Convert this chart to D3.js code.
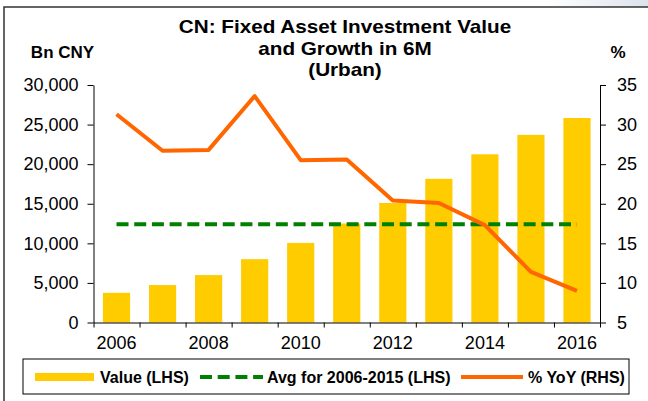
<!DOCTYPE html>
<html>
<head>
<meta charset="utf-8">
<script src="https://cdn.jsdelivr.net/npm/d3@7"></script>
<style>
  body { margin: 0; background: #fff; }
  svg { display: block; font-family: 'Liberation Sans', Arial, sans-serif; }
</style>
</head>
<body>
<svg id="chart" width="648" height="401"></svg>
<script>
const years = [2006, 2007, 2008, 2009, 2010, 2011, 2012, 2013, 2014, 2015, 2016]
const values = [3750, 4730, 5990, 8000, 10050, 12500, 15100, 18150, 21250, 23700, 25830] // Bn CNY
const yoy = [31.3, 26.7, 26.8, 33.6, 25.5, 25.6, 20.4, 20.1, 17.3, 11.4, 9.0] // %
const avgValue = 12400
const leftTicks = [0, 5000, 10000, 15000, 20000, 25000, 30000]
const rightTicks = [5, 10, 15, 20, 25, 30, 35]
const yearLabels = [2006, 2008, 2010, 2012, 2014, 2016]
const titleLines = ['CN: Fixed Asset Investment Value', 'and Growth in 6M', '(Urban)']
const legendLabels = ['Value (LHS)', 'Avg for 2006-2015 (LHS)', '% YoY (RHS)']

const BAR = '#FFCC00'
const AVG = '#008000'
const LINE = '#FF6600'

const plot = { left: 93.5, right: 600, top: 85, bottom: 322.5 }
const svg = d3.select('#chart')

// light smear at top right of the original screenshot
const grad = svg.append('defs').append('linearGradient').attr('id', 'smear')
grad.append('stop').attr('offset', '0%').attr('stop-color', '#fff')
grad.append('stop').attr('offset', '100%').attr('stop-color', '#dde3ec')
svg.append('rect').attr('x', 545).attr('y', 0).attr('width', 103).attr('height', 7).attr('fill', 'url(#smear)')

// chart frame (left + top edges are visible)
svg.append('path')
  .attr('d', 'M4,401 V7 H648')
  .attr('fill', 'none')
  .attr('stroke', '#333')
  .attr('stroke-width', 1.5)

const x = d3.scaleBand()
  .domain(years)
  .range([plot.left, plot.right])
  .paddingInner(0.41)
  .paddingOuter(0.205)
const xIdx = d3.scaleLinear().domain([0, years.length]).range([plot.left, plot.right])
const yL = d3.scaleLinear().domain([0, 30000]).range([plot.bottom, plot.top])
const yR = d3.scaleLinear().domain([5, 35]).range([plot.bottom, plot.top])
const cx = (d) => x(d) + x.bandwidth() / 2

/**
 * Appends a text, optionally stretched horizontally like the pasted original.
 */
function label (g, str, px, py, opts) {
  const sx = opts.sx || 1
  return g.append('text')
    .attr('transform', 'translate(' + px + ',' + py + ') scale(' + sx + ',1)')
    .attr('text-anchor', opts.anchor || 'start')
    .attr('font-size', opts.size)
    .attr('font-weight', opts.weight || 'normal')
    .attr('fill', '#000')
    .text(str)
}

// title
const titleBase = [33, 54.5, 76]
titleLines.forEach((t, i) => label(svg, t, 345, titleBase[i], { size: 18, weight: 'bold', anchor: 'middle', sx: 1.15 }))
label(svg, 'Bn CNY', 62.5, 58, { size: 17, weight: 'bold', anchor: 'middle' })
label(svg, '%', 618, 58, { size: 17, weight: 'bold', anchor: 'middle' })

// bars
svg.append('g')
  .selectAll('rect')
  .data(years)
  .join('rect')
  .attr('x', (d) => x(d))
  .attr('y', (d, i) => yL(values[i]))
  .attr('width', x.bandwidth())
  .attr('height', (d, i) => yL(0) - yL(values[i]))
  .attr('fill', BAR)

// average line
svg.append('path')
  .datum(years)
  .attr('d', d3.line().x(cx).y(() => yL(avgValue)))
  .attr('fill', 'none')
  .attr('stroke', AVG)
  .attr('stroke-width', 4)
  .attr('stroke-dasharray', '12,5.7')

// yoy line
svg.append('path')
  .datum(years)
  .attr('d', d3.line().x(cx).y((d, i) => yR(yoy[i])))
  .attr('fill', 'none')
  .attr('stroke', LINE)
  .attr('stroke-width', 4)
  .attr('stroke-linejoin', 'round')

// axes
function styleAxis (g) {
  g.selectAll('path, line').attr('stroke', '#000').attr('stroke-width', 1)
  g.selectAll('text').attr('font-size', 18).attr('fill', '#000').attr('font-family', 'Liberation Sans, Arial, sans-serif')
}

svg.append('g')
  .attr('transform', 'translate(' + plot.left + ',0)')
  .call(d3.axisLeft(yL).tickValues(leftTicks).tickFormat(d3.format(',')).tickSize(6).tickSizeOuter(0).tickPadding(9))
  .call(styleAxis)

svg.append('g')
  .attr('transform', 'translate(' + plot.right + ',0)')
  .call(d3.axisRight(yR).tickValues(rightTicks).tickSize(6).tickSizeOuter(0).tickPadding(11))
  .call(styleAxis)

svg.append('g')
  .attr('transform', 'translate(0,' + plot.bottom + ')')
  .call(d3.axisBottom(xIdx).tickValues(d3.range(years.length + 1)).tickFormat('').tickSize(5).tickSizeOuter(0))
  .call(styleAxis)

svg.append('g')
  .attr('transform', 'translate(0,' + plot.bottom + ')')
  .call(d3.axisBottom(x).tickValues(yearLabels).tickSize(0).tickPadding(13.5))
  .call((g) => g.select('.domain').remove())
  .call(styleAxis)

// legend
const lg = svg.append('g')
lg.append('rect')
  .attr('x', 23).attr('y', 359).attr('width', 606).attr('height', 35)
  .attr('fill', '#fff').attr('stroke', '#000').attr('stroke-width', 1)
lg.append('rect').attr('x', 35).attr('y', 373).attr('width', 59).attr('height', 8).attr('fill', BAR)
lg.append('line').attr('x1', 200).attr('x2', 263).attr('y1', 377).attr('y2', 377)
  .attr('stroke', AVG).attr('stroke-width', 4).attr('stroke-dasharray', '12,5.7')
lg.append('line').attr('x1', 461).attr('x2', 523).attr('y1', 377).attr('y2', 377)
  .attr('stroke', LINE).attr('stroke-width', 4)
const legendX = [100, 267, 528]
legendLabels.forEach((t, i) => label(lg, t, legendX[i], 382.5, { size: 16, weight: 'bold' }))
</script>
</body>
</html>
